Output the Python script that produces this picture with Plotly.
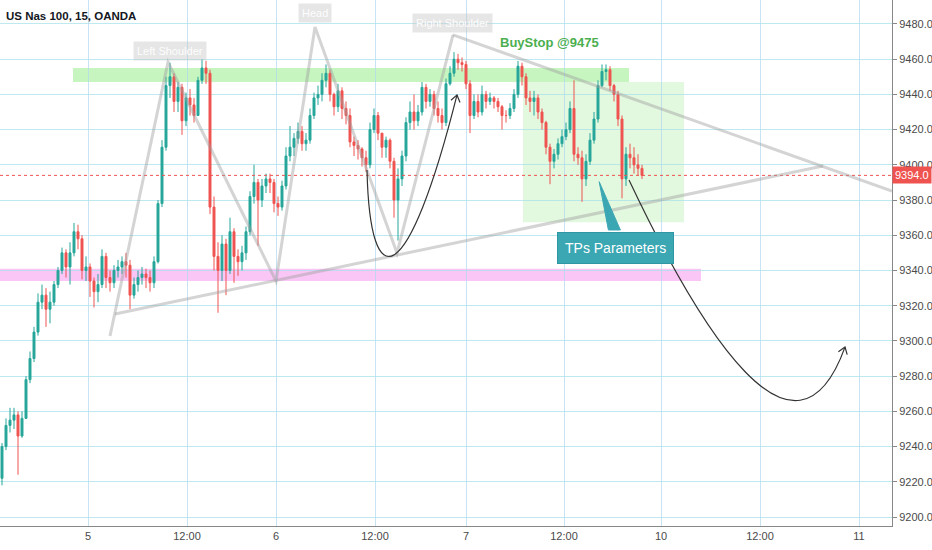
import plotly.graph_objects as go

# 30-min-ish bars (price, US Nas 100)
first_open = 9222
closes = [9240, 9252, 9255, 9258, 9246, 9256, 9278, 9290, 9305, 9322,
          9326, 9318, 9322, 9332, 9340, 9350, 9342, 9350, 9362, 9358,
          9340, 9342, 9334, 9328, 9332, 9348, 9336, 9333, 9340, 9342,
          9345, 9343, 9326, 9332, 9336, 9338, 9336, 9333, 9345, 9378,
          9410, 9445, 9450, 9436, 9444, 9425, 9438, 9434, 9428, 9448,
          9455, 9452, 9376, 9348, 9340, 9355, 9340, 9362, 9348, 9345,
          9350, 9362, 9382, 9390, 9380, 9388, 9392, 9390, 9378, 9376,
          9388, 9405, 9410, 9415, 9419, 9412, 9414, 9428, 9438, 9440,
          9448, 9452, 9440, 9433, 9442, 9432, 9428, 9413, 9411, 9409,
          9404, 9400, 9420, 9428, 9418, 9410, 9414, 9402, 9380, 9392,
          9405, 9424, 9430, 9425, 9430, 9444, 9436, 9440, 9432, 9428,
          9424, 9446, 9452, 9460, 9458, 9457, 9446, 9428, 9436, 9430,
          9440, 9436, 9438, 9436, 9433, 9428, 9428, 9432, 9440, 9456,
          9450, 9438, 9436, 9438, 9430, 9424, 9410, 9402, 9406, 9412,
          9416, 9420, 9432, 9406, 9404, 9392, 9402, 9414, 9426, 9445,
          9453, 9454, 9445, 9440, 9426, 9392, 9406, 9404, 9400, 9398,
          9394]
highs = [9242, 9256, 9262, 9262, 9260, 9260, 9280, 9294, 9308, 9327,
         9332, 9330, 9328, 9334, 9342, 9353, 9352, 9356, 9367, 9366,
         9360, 9348, 9344, 9336, 9338, 9352, 9350, 9340, 9343, 9346,
         9348, 9350, 9346, 9336, 9340, 9342, 9341, 9340, 9348, 9380,
         9414, 9450, 9458, 9452, 9447, 9446, 9441, 9443, 9438, 9450,
         9460, 9459, 9454, 9382, 9356, 9360, 9358, 9370, 9364, 9352,
         9354, 9365, 9385, 9400, 9392, 9392, 9395, 9395, 9392, 9382,
         9391, 9410, 9422, 9418, 9424, 9422, 9418, 9432, 9441, 9445,
         9452, 9457, 9454, 9441, 9446, 9444, 9436, 9432, 9416, 9414,
         9410, 9408, 9424, 9432, 9430, 9418, 9416, 9415, 9404, 9398,
         9408, 9427, 9436, 9440, 9434, 9447, 9446, 9443, 9442, 9436,
         9432, 9449, 9456, 9464, 9463, 9461, 9459, 9448, 9440, 9440,
         9445, 9442, 9441, 9439, 9438, 9434, 9431, 9435, 9443, 9459,
         9458, 9452, 9442, 9442, 9440, 9432, 9425, 9412, 9409, 9415,
         9420, 9424, 9436, 9448, 9410, 9408, 9406, 9418, 9430, 9448,
         9457, 9457, 9456, 9446, 9442, 9428, 9410, 9412, 9410, 9406,
         9400]
lows = [9218, 9238, 9248, 9250, 9224, 9245, 9256, 9276, 9288, 9303,
        9318, 9308, 9310, 9320, 9330, 9338, 9336, 9332, 9348, 9352,
        9335, 9334, 9325, 9319, 9322, 9330, 9330, 9328, 9330, 9336,
        9338, 9336, 9318, 9324, 9328, 9332, 9330, 9328, 9330, 9344,
        9376, 9408, 9438, 9430, 9430, 9417, 9422, 9428, 9424, 9428,
        9446, 9446, 9372, 9340, 9316, 9334, 9326, 9338, 9333, 9337,
        9340, 9346, 9360, 9378, 9354, 9376, 9384, 9384, 9373, 9371,
        9374, 9386, 9402, 9405, 9412, 9408, 9408, 9412, 9426, 9434,
        9436, 9444, 9436, 9428, 9430, 9426, 9423, 9410, 9405, 9403,
        9399, 9396, 9398, 9418, 9414, 9404, 9404, 9398, 9370, 9357,
        9388, 9402, 9420, 9420, 9422, 9428, 9432, 9433, 9428, 9424,
        9420, 9422, 9445, 9450, 9454, 9453, 9443, 9418, 9426, 9427,
        9428, 9432, 9434, 9432, 9430, 9420, 9424, 9426, 9430, 9438,
        9445, 9434, 9430, 9428, 9426, 9420, 9406, 9389, 9398, 9403,
        9410, 9414, 9418, 9402, 9400, 9379, 9388, 9400, 9412, 9424,
        9444, 9448, 9442, 9436, 9422, 9381, 9388, 9398, 9395, 9394,
        9392]

tick_pos = [21.5, 46.25, 68.5, 93.25, 116, 140.5, 164.75, 189.5, 214.25]
tick_text = ["5", "12:00", "6", "12:00", "7", "12:00", "10", "12:00", "11"]
price_ticks = list(range(9200, 9481, 20))
last_price = 9394.0

# drawings (bar index, price)
hs_pattern = [(27, 9302.8), (41.5, 9458.4), (68.5, 9334.0), (78.25, 9478.3),
              (98.75, 9349.9), (112.75, 9473.8)]
upper_line = [(112.75, 9473.8), (222.5, 9385.1)]
neck_line = [(28.25, 9315.3), (205.25, 9399.3)]
curve1 = [(91.25, 9397.1), (92, 9323.2), (101.5, 9328.9), (113.75, 9439.7)]
head1 = [(112.25, 9436.7), (113.75, 9439.7), (114.5, 9435.4)]
curve2 = [(156.75, 9391.4), (174.5, 9306.2), (198.25, 9218.2), (210.75, 9296.5)]
head2 = [(209.1, 9293.9), (210.75, 9296.5), (211.3, 9292.2)]
pointer = [(151.6, 9363.0), (149.3, 9390.4), (154.6, 9363.0)]

bars = list(range(len(closes)))
opens = [first_open] + closes[:-1]
highs = [max(h, o, c) for h, o, c in zip(highs, opens, closes)]
lows = [min(l, o, c) for l, o, c in zip(lows, opens, closes)]

fig = go.Figure()
fig.add_trace(go.Candlestick(
    x=bars, open=opens, high=highs, low=lows, close=closes,
    increasing=dict(line=dict(color="#26a69a", width=1), fillcolor="#26a69a"),
    decreasing=dict(line=dict(color="#ef5350", width=1), fillcolor="#ef5350"),
    whiskerwidth=0, showlegend=False, hoverinfo="skip"))


def poly(pts):
    return "M " + " L ".join(f"{x},{y}" for x, y in pts)


def bez(pts):
    (a, b, c, d) = pts
    return f"M {a[0]},{a[1]} C {b[0]},{b[1]} {c[0]},{c[1]} {d[0]},{d[1]}"


grey = dict(color="rgba(160,160,160,0.45)", width=3)
shapes = [
    dict(type="rect", x0=-0.5, x1=174.75, y0=9334, y1=9341,
         fillcolor="rgba(245,160,240,0.6)", line_width=0, layer="below"),
    dict(type="rect", x0=17.75, x1=156.75, y0=9447, y1=9455,
         fillcolor="rgba(160,238,150,0.6)", line_width=0, layer="below"),
    dict(type="rect", x0=130.25, x1=170.5, y0=9367.4, y1=9447,
         fillcolor="rgba(190,240,185,0.45)", line_width=0, layer="below"),
    dict(type="line", xref="paper", x0=0, x1=1, y0=last_price, y1=last_price,
         line=dict(color="#ef5350", width=1, dash="dot")),
    dict(type="path", path=poly(hs_pattern), line=grey),
    dict(type="path", path=poly(upper_line), line=grey),
    dict(type="path", path=poly(neck_line), line=grey),
    dict(type="path", path=bez(curve1), line=dict(color="#333", width=1.2)),
    dict(type="path", path=poly(head1), line=dict(color="#333", width=1.2)),
    dict(type="path", path=bez(curve2), line=dict(color="#333", width=1.2)),
    dict(type="path", path=poly(head2), line=dict(color="#333", width=1.2)),
    dict(type="path", path=poly(pointer) + " Z", fillcolor="#3ba7b3",
         line=dict(color="#3ba7b3", width=1)),
]

lbl = dict(showarrow=False, bgcolor="rgba(200,200,200,0.45)",
           font=dict(color="rgba(255,255,255,0.95)", size=11, family="Liberation Sans"),
           borderpad=3)
annotations = [
    dict(x=42, y=9464.7, text="Left Shoulder", **lbl),
    dict(x=78.25, y=9486.2, text="Head", **lbl),
    dict(x=112.5, y=9480.6, text="Right Shoulder", **lbl),
    dict(x=136.75, y=9469.2, text="<b>BuyStop @9475</b>", showarrow=False,
         font=dict(color="#4caf50", size=13, family="Liberation Sans")),
    dict(x=153.25, y=9352.8, text="TPs Parameters", showarrow=False,
         bgcolor="#3ba7b3", bordercolor="#2f97a3", borderwidth=1, borderpad=7,
         font=dict(color="white", size=14, family="Liberation Sans")),
    dict(xref="paper", x=1.0, xanchor="left", y=last_price, text="9394.0",
         showarrow=False, bgcolor="#ef5350", borderpad=2,
         font=dict(color="white", size=11, family="Liberation Sans")),
    dict(xref="paper", yref="paper", x=0.004, y=0.985, xanchor="left",
         yanchor="top", text="<b>US Nas 100, 15, OANDA</b>", showarrow=False,
         font=dict(color="#131722", size=11.5, family="Liberation Sans")),
]

fig.update_layout(
    width=932, height=550,
    margin=dict(l=0, r=40, t=0, b=24),
    paper_bgcolor="white", plot_bgcolor="white",
    shapes=shapes, annotations=annotations,
    font=dict(family="Liberation Sans", size=11, color="#4a4a4a"),
    xaxis=dict(range=[-0.5, 222.5], tickvals=tick_pos, ticktext=tick_text,
               showgrid=True, gridcolor="rgba(175,215,240,0.7)", gridwidth=1,
               showline=True, linecolor="#888", linewidth=1, zeroline=False,
               rangeslider=dict(visible=False), fixedrange=True, ticks=""),
    yaxis=dict(side="right", range=[9194.9, 9493.6], tickvals=price_ticks,
               tickformat=".1f", showgrid=True,
               gridcolor="rgba(170,225,235,0.75)", gridwidth=1,
               showline=True, linecolor="#888", linewidth=1, zeroline=False,
               ticks="outside", ticklen=4, tickcolor="#888"),
)

fig.write_html("out.html", config={"displayModeBar": False},
               post_script="document.body.style.margin='0px';"
                           "document.body.style.overflow='hidden';")
